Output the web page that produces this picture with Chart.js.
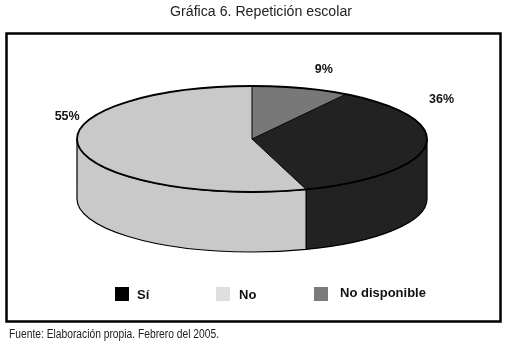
<!DOCTYPE html>
<html>
<head>
<meta charset="utf-8">
<style>
  html, body { margin: 0; padding: 0; background: #fff; }
  canvas { display: block; }
</style>
</head>
<body>
<canvas id="chart" width="509" height="346"></canvas>
<script src="https://cdn.jsdelivr.net/npm/chart.js@4/dist/chart.umd.min.js"></script>
<script>
var categories = ["Sí", "No", "No disponible"];
var values = [36, 55, 9];
var sliceColors = ["#222222", "#c9c9c9", "#787878"];
var legendColors = ["#000000", "#dedede", "#7b7b7b"];
var titleText = "Gráfica 6. Repetición escolar";
var sourceText = "Fuente: Elaboración propia. Febrero del 2005.";

// the flattened pie on the page
var pie = { x: 252, y: 139, rx: 175, ry: 53, depth: 60 };
// value label, moved from the middle of the slice rim
var labelOffsets = [[16, -46], [-12, -31], [23, -19]];
var legendPos = [
    { box: 115, boxY: 287, text: 137, base: 299 },
    { box: 216, boxY: 287, text: 239, base: 299 },
    { box: 314, boxY: 287, text: 340, base: 297 }
];

var total = values.reduce(function(a, b) { return a + b; }, 0);

function drawSide(ctx, start, end, color) {
    // only the front half of the rim is visible
    var a = Math.max(start, 0);
    var b = Math.min(end, Math.PI);
    if (a >= b) return;
    ctx.beginPath();
    ctx.ellipse(pie.x, pie.y, pie.rx, pie.ry, 0, a, b);
    ctx.ellipse(pie.x, pie.y + pie.depth, pie.rx, pie.ry, 0, b, a, true);
    ctx.closePath();
    ctx.fillStyle = color;
    ctx.fill();
    ctx.lineWidth = 1.2;
    ctx.strokeStyle = "#000";
    ctx.stroke();
}

var flatPie = {
    id: "flatPie",
    beforeDraw: function(chart) {
        var ctx = chart.ctx;
        ctx.save();
        ctx.fillStyle = "#fff";
        ctx.fillRect(0, 0, 509, 346);
        ctx.lineWidth = 2.5;
        ctx.strokeStyle = "#000";
        ctx.strokeRect(6.5, 33.5, 494, 288);
        ctx.fillStyle = "#222";
        ctx.textBaseline = "alphabetic";
        ctx.textAlign = "left";
        // the original uses a narrow face, so squeeze the sans to its width
        ctx.font = "15.5px 'Liberation Sans'";
        ctx.fillText(titleText, 170, 16, 182);
        ctx.font = "12px 'Liberation Sans'";
        ctx.fillText(sourceText, 9, 338, 210);
        ctx.restore();
    },
    beforeDatasetsDraw: function(chart) {
        var ctx = chart.ctx;
        var arcs = chart.getDatasetMeta(0).data;
        arcs.forEach(function(arc, i) {
            // a slice can run past 2 pi, so try it a turn back as well
            drawSide(ctx, arc.startAngle, arc.endAngle, sliceColors[i]);
            drawSide(ctx, arc.startAngle - 2 * Math.PI, arc.endAngle - 2 * Math.PI, sliceColors[i]);
        });
        var first = arcs[0];
        ctx.save();
        ctx.translate(pie.x, pie.y);
        ctx.scale(pie.rx / first.outerRadius, pie.ry / first.outerRadius);
        ctx.translate(-first.x, -first.y);
    },
    afterDatasetsDraw: function(chart) {
        var ctx = chart.ctx;
        ctx.restore();
        var arcs = chart.getDatasetMeta(0).data;

        ctx.save();
        ctx.strokeStyle = "#000";
        ctx.lineWidth = 1;
        arcs.forEach(function(arc) {
            ctx.beginPath();
            ctx.moveTo(pie.x, pie.y);
            ctx.lineTo(pie.x + pie.rx * Math.cos(arc.startAngle), pie.y + pie.ry * Math.sin(arc.startAngle));
            ctx.stroke();
        });
        ctx.lineWidth = 1.8;
        ctx.beginPath();
        ctx.ellipse(pie.x, pie.y, pie.rx, pie.ry, 0, 0, 2 * Math.PI);
        ctx.stroke();

        ctx.fillStyle = "#111";
        ctx.font = "bold 12.5px 'Liberation Sans'";
        ctx.textAlign = "center";
        ctx.textBaseline = "middle";
        arcs.forEach(function(arc, i) {
            var mid = (arc.startAngle + arc.endAngle) / 2;
            var x = pie.x + pie.rx * Math.cos(mid) + labelOffsets[i][0];
            var y = pie.y + pie.ry * Math.sin(mid) + labelOffsets[i][1];
            ctx.fillText(values[i] + "%", x, y);
        });

        ctx.textAlign = "left";
        ctx.textBaseline = "alphabetic";
        ctx.font = "bold 13px 'Liberation Sans'";
        categories.forEach(function(name, i) {
            var p = legendPos[i];
            ctx.fillStyle = legendColors[i];
            ctx.fillRect(p.box, p.boxY, 14, 14);
            ctx.fillStyle = "#111";
            ctx.fillText(name, p.text, p.base);
        });
        ctx.restore();
    }
};

var ctx = document.getElementById("chart");
var chart = new Chart(ctx, {
    type: "pie",
    data: {
        labels: categories,
        datasets: [{
            data: values,
            backgroundColor: sliceColors,
            borderWidth: 0,
            clip: false
        }]
    },
    options: {
        responsive: false,
        animation: false,
        rotation: values[2] / total * 360,
        plugins: {
            legend: { display: false },
            title: { display: false },
            tooltip: { enabled: false }
        }
    },
    plugins: [flatPie]
});
</script>
</body>
</html>
